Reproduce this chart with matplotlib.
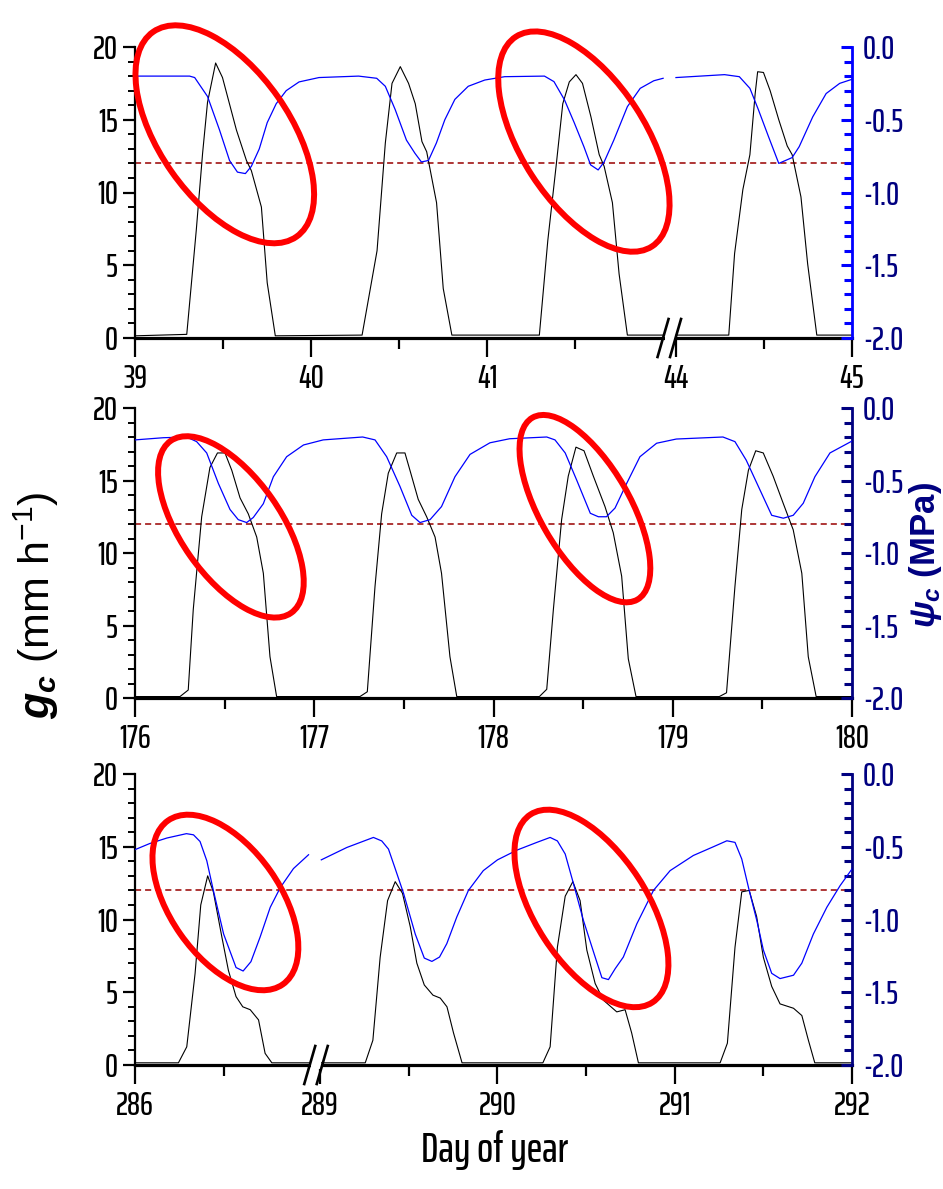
import numpy as np
import matplotlib
matplotlib.use("Agg")
import matplotlib.pyplot as plt
from matplotlib import font_manager as fm
from matplotlib.font_manager import FontProperties
from matplotlib.textpath import TextPath
from matplotlib.patches import Ellipse, Rectangle
from matplotlib.lines import Line2D
from matplotlib.transforms import ScaledTranslation, blended_transform_factory

# ---------------------------------------------------------------- data
# Panel A (days 39-41 and 44)
a_gc_day = [39.0, 39.294, 39.348, 39.384, 39.412, 39.458, 39.497, 39.576, 39.633, 39.661, 39.718, 39.751, 39.797,
            40.29, 40.375, 40.422, 40.46, 40.507, 40.554, 40.592, 40.63, 40.657, 40.713, 40.751, 40.80,
            41.297, 41.345, 41.392, 41.43, 41.467, 41.505, 41.542, 41.59, 41.637, 41.665, 41.712, 41.75, 41.797, 42.0,
            44.0, 44.30, 44.333, 44.38, 44.42, 44.45, 44.464, 44.497, 44.535, 44.584, 44.632, 44.66, 44.71, 44.748, 44.80, 45.0]
a_gc = [0.15, 0.25, 7.4, 12.7, 16.2, 18.9, 17.9, 14.3, 12.2, 11.5, 9.0, 3.8, 0.15,
        0.2, 6.0, 13.4, 17.5, 18.65, 17.5, 16.1, 13.5, 12.8, 9.3, 3.4, 0.2,
        0.2, 6.7, 11.8, 16.1, 17.6, 18.1, 17.5, 15.2, 12.6, 11.8, 9.3, 4.4, 0.2, 0.2,
        0.2, 0.2, 5.8, 10.2, 12.6, 16.8, 18.3, 18.25, 17.0, 15.0, 13.2, 12.6, 9.7, 5.1, 0.2, 0.2]
a_psi_day = [39.0, 39.31, 39.339, 39.412, 39.48, 39.537, 39.582, 39.627, 39.661, 39.706, 39.751, 39.802, 39.859,
             39.932, 40.045, 40.27, 40.373, 40.422, 40.478, 40.542, 40.59, 40.627, 40.667, 40.712, 40.76, 40.817,
             40.893, 40.987, 41.10, 41.326, 41.38, 41.44, 41.495, 41.55, 41.588, 41.631, 41.665, 41.72, 41.797,
             41.87, 41.947, 42.0,
             44.0, 44.276, 44.36, 44.42, 44.468, 44.526, 44.584, 44.66, 44.70, 44.777, 44.853, 44.93, 45.0]
a_psi = [-0.20, -0.20, -0.21, -0.34, -0.57, -0.78, -0.86, -0.87, -0.82, -0.70, -0.52, -0.39, -0.30,
         -0.24, -0.21, -0.20, -0.215, -0.27, -0.43, -0.64, -0.73, -0.79, -0.78, -0.66, -0.50, -0.36,
         -0.27, -0.227, -0.204, -0.20, -0.238, -0.364, -0.52, -0.685, -0.81, -0.845, -0.79, -0.64, -0.41,
         -0.284, -0.232, -0.215,
         -0.21, -0.19, -0.204, -0.284, -0.43, -0.617, -0.80, -0.76, -0.685, -0.48, -0.32, -0.25, -0.222]

# Panel B (days 176-179)
b_gc_day = [176.0, 176.251, 176.297, 176.325, 176.372, 176.418, 176.46, 176.502, 176.54, 176.586, 176.632, 176.679,
            176.716, 176.753, 176.79,
            177.255, 177.296, 177.339, 177.376, 177.413, 177.46, 177.506, 177.534, 177.58, 177.627, 177.674, 177.71,
            177.757, 177.795,
            178.256, 178.297, 178.334, 178.38, 178.417, 178.46, 178.505, 178.557, 178.622, 178.668, 178.715, 178.752,
            178.795,
            179.26, 179.30, 179.347, 179.385, 179.422, 179.463, 179.505, 179.56, 179.617, 179.672, 179.72, 179.756,
            179.80, 180.0]
b_gc = [0.1, 0.1, 0.55, 6.1, 12.5, 15.9, 16.9, 16.9, 15.7, 13.8, 12.7, 11.1, 8.6, 2.85, 0.1,
        0.1, 0.43, 7.7, 12.7, 15.5, 16.9, 16.9, 15.7, 13.7, 12.5, 11.1, 8.6, 2.85, 0.1,
        0.1, 0.6, 6.1, 12.3, 15.3, 17.3, 17.05, 15.3, 13.2, 11.4, 8.4, 2.7, 0.1,
        0.1, 0.36, 7.7, 13.0, 15.7, 17.05, 16.9, 15.3, 13.4, 11.6, 8.6, 2.85, 0.1, 0.1]
b_psi_day = [176.0, 176.158, 176.288, 176.344, 176.40, 176.465, 176.53, 176.576, 176.623, 176.66, 176.716, 176.772,
             176.846, 176.94, 177.05, 177.27, 177.339, 177.404, 177.478, 177.544, 177.59, 177.646, 177.71, 177.785,
             177.869, 177.98, 178.09, 178.297, 178.343, 178.40, 178.464, 178.54, 178.585, 178.63, 178.678, 178.743,
             178.817, 178.91, 179.02, 179.28, 179.347, 179.41, 179.487, 179.552, 179.617, 179.672, 179.728, 179.793,
             179.877, 180.0]
b_psi = [-0.22, -0.205, -0.20, -0.232, -0.31, -0.52, -0.70, -0.77, -0.79, -0.755, -0.66, -0.474,
         -0.336, -0.255, -0.22, -0.20, -0.22, -0.336, -0.54, -0.74, -0.79, -0.77, -0.68, -0.474,
         -0.32, -0.24, -0.212, -0.20, -0.22, -0.31, -0.497, -0.726, -0.75, -0.75, -0.69, -0.52,
         -0.336, -0.243, -0.214, -0.20, -0.232, -0.36, -0.566, -0.74, -0.76, -0.74, -0.657, -0.474,
         -0.31, -0.228]

# Panel C (days 286 and 289-291)
c_gc_day = [286.0, 286.245, 286.292, 286.339, 286.371, 286.41, 286.442, 286.49, 286.527, 286.57, 286.608, 286.65,
            286.697, 286.734, 286.772, 287.0,
            289.0, 289.254, 289.297, 289.338, 289.38, 289.423, 289.464, 289.508, 289.545, 289.587, 289.636, 289.677,
            289.715, 289.752, 289.80,
            290.256, 290.297, 290.338, 290.382, 290.425, 290.466, 290.504, 290.551, 290.598, 290.673, 290.72,
            290.757, 290.795,
            291.256, 291.297, 291.34, 291.378, 291.42, 291.462, 291.50, 291.547, 291.594, 291.67, 291.717, 291.754,
            291.79, 292.0]
c_gc = [0.15, 0.15, 1.25, 6.3, 11.0, 13.0, 11.9, 8.8, 6.5, 4.7, 4.0, 3.8, 3.1, 0.8, 0.15, 0.15,
        0.15, 0.15, 1.7, 7.4, 11.3, 12.6, 11.8, 9.5, 7.0, 5.5, 4.8, 4.6, 4.0, 2.2, 0.15,
        0.15, 1.25, 8.1, 11.6, 12.6, 11.3, 7.9, 5.6, 4.45, 3.65, 3.8, 2.2, 0.15,
        0.15, 1.5, 8.1, 11.9, 12.0, 10.2, 7.4, 5.4, 4.2, 3.9, 3.4, 1.7, 0.15, 0.15]
c_psi_day = [286.0, 286.085, 286.18, 286.29, 286.33, 286.367, 286.405, 286.442, 286.5, 286.57, 286.61, 286.654,
             286.706, 286.763, 286.82, 286.894, 286.979,
             289.006, 289.15, 289.30, 289.347, 289.385, 289.42, 289.47, 289.536, 289.587, 289.63, 289.673, 289.714,
             289.77, 289.836, 289.92, 290.0, 290.11, 290.222, 290.297, 290.338, 290.382, 290.429, 290.485, 290.551,
             290.589, 290.626, 290.664, 290.71, 290.786, 290.88, 290.974, 291.105, 291.218, 291.294, 291.34,
             291.378, 291.416, 291.463, 291.50, 291.547, 291.594, 291.67, 291.717, 291.782, 291.858, 291.933, 292.0]
c_psi = [-0.52, -0.477, -0.44, -0.41, -0.418, -0.464, -0.596, -0.80, -1.10, -1.33, -1.354, -1.29,
         -1.12, -0.916, -0.78, -0.65, -0.555,
         -0.59, -0.505, -0.436, -0.46, -0.516, -0.64, -0.82, -1.10, -1.265, -1.288, -1.258, -1.166,
         -0.984, -0.80, -0.664, -0.59, -0.523, -0.47, -0.436, -0.46, -0.55, -0.755, -1.007, -1.258,
         -1.40, -1.413, -1.338, -1.258, -1.03, -0.80, -0.664, -0.56, -0.50, -0.459, -0.47,
         -0.584, -0.78, -1.007, -1.21, -1.37, -1.406, -1.383, -1.30, -1.10, -0.916, -0.767, -0.653]

# day ranges shown on each x axis (broken axes)
a_segments = [(39, 42), (44, 45)]
b_segments = [(176, 180)]
c_segments = [(286, 287), (289, 292)]

a_xticks = [39, 40, 41, 44, 45]
b_xticks = [176, 177, 178, 179, 180]
c_xticks = [286, 289, 290, 291, 292]
a_xminor = [39.5, 40.5, 41.5, 44.5]
b_xminor = [176.5, 177.5, 178.5, 179.5]
c_xminor = [286.5, 289.5, 290.5, 291.5]

gc_ticks = [0, 5, 10, 15, 20]
gc_ticklabels = ["0", "5", "10", "15", "20"]
psi_ticks = [-2.0, -1.5, -1.0, -0.5, 0.0]
psi_ticklabels = ["-2.0", "-1.5", "-1.0", "-0.5", "0.0"]
gc_threshold = 12

# annotation ellipses: (day, gc, semi-major px, semi-minor px, angle)
a_ellipses = [(39.51, 14.0, 125, 65, -55), (41.55, 13.5, 125, 62, -57)]
b_ellipses = [(176.535, 11.8, 105, 50, -55), (178.51, 13.06, 105, 45, -60)]
c_ellipses = [(286.51, 11.17, 100, 55, -55), (290.53, 10.76, 112, 56, -57)]

# ---------------------------------------------------------------- fonts
plt.rcParams["font.family"] = ["Liberation Sans", "DejaVu Sans"]
plt.rcParams["mathtext.fontset"] = "custom"
plt.rcParams["mathtext.rm"] = "Liberation Sans"
plt.rcParams["mathtext.it"] = "Liberation Sans:italic:bold"
plt.rcParams["mathtext.bf"] = "Liberation Sans:bold"

SANS_FAMS = ("DejaVu Sans", "Liberation Sans", "Liberation Sans Narrow", "Noto Sans", "Roboto",
             "Roboto Condensed", "Open Sans", "Open Sans Condensed", "Lato", "Inter", "Arial Narrow")


def _ok_family(name):
    if name in SANS_FAMS:
        return True
    return ("Condensed" in name or "Narrow" in name) and "Mono" not in name and "Serif" not in name


def _ink(text, fname):
    tp = TextPath((0, 0), text, size=1, prop=FontProperties(fname=fname))
    return tp.get_extents()


def _wnum(f):
    w = f.weight
    if isinstance(w, (int, float)):
        return int(w)
    return {"normal": 400, "regular": 400, "book": 400, "medium": 500}.get(str(w).lower(), -1)


TARGET = 36.0 / 23.0  # ink width of "-0.5" over digit height in the reference
cands = []
for f in fm.fontManager.ttflist:
    if f.style != "normal" or not _ok_family(f.name):
        continue
    if _wnum(f) not in (400, 500):
        continue
    try:
        h = _ink("0", f.fname).height
        w = _ink("-0.5", f.fname).width
    except Exception:
        continue
    if h <= 0:
        continue
    cands.append((abs(w / h - TARGET), f, h, w))

if cands:
    cands.sort(key=lambda c: c[0])
    err0, f0, h0, w0 = cands[0]
    chosen = (f0.fname, h0, w0)
    # prefer the medium weight of the same family / width if it exists
    for err, f, h, w in cands:
        if f.name == f0.name and str(f.stretch) == str(f0.stretch) and _wnum(f) == 500 and err < err0 + 0.1:
            chosen = (f.fname, h, w)
            break
    NARROW_FILE, h_em, w_em = chosen
else:
    NARROW_FILE = fm.findfont(FontProperties(family="Liberation Sans"))
    h_em, w_em = 0.72, 1.6

em_px = min(23.0 / h_em, 40.0 / w_em)
TICK_SIZE = em_px * 0.72

dy_ext = _ink("Day of year", NARROW_FILE)
xl_em = min(145.0 / dy_ext.width, 36.0 / _ink("D", NARROW_FILE).height)
XLABEL_SIZE = xl_em * 0.72


def tickfont(size=None):
    return FontProperties(fname=NARROW_FILE, size=size or TICK_SIZE)


W, H = 943, 1189
fig = plt.figure(figsize=(W / 100, H / 100), dpi=100)

NAVY = "#000080"


def rect(top, bottom, left=135, right=852):
    return [left / W, 1 - bottom / H, (right - left) / W, (bottom - top) / H]


def make_panel(r, segs, gap, gcd, gcv, psd, psv, xt, xminor, ells, rcol):
    ax = fig.add_axes(r)
    dk = [segs[0][0] - 100.0]
    pk = [-100.0]
    pos = 0.0
    for i, (s, e) in enumerate(segs):
        if i > 0:
            pos += gap
        dk += [s, e]
        pk += [pos, pos + (e - s)]
        pos += e - s
    dk.append(segs[-1][1] + 100.0)
    pk.append(pos + 100.0)
    fwd = lambda x: np.interp(x, dk, pk)
    inv = lambda y: np.interp(y, pk, dk)
    ax.set_xscale("function", functions=(fwd, inv))
    ax2 = ax.twinx()
    ax2.set_xscale("function", functions=(fwd, inv))

    gcd = np.asarray(gcd); gcv = np.asarray(gcv)
    psd = np.asarray(psd); psv = np.asarray(psv)
    for s, e in segs:
        m = (gcd >= s) & (gcd <= e)
        ax.plot(gcd[m], gcv[m], color="black", lw=0.8, zorder=3)
        m2 = (psd >= s) & (psd <= e)
        ax2.plot(psd[m2], psv[m2], color="#0000ff", lw=0.9, zorder=3)
    ax.axhline(gc_threshold, color="#990000", lw=1.1, ls=(0, (4, 2.6)), zorder=2)

    ax.set_xlim(segs[0][0], segs[-1][1])
    ax2.set_xlim(segs[0][0], segs[-1][1])
    ax.set_ylim(0, 20)
    ax2.set_ylim(-2, 0)

    ax.set_xticks(xt)
    ax.set_xticklabels([str(v) for v in xt])
    ax.set_xticks(xminor, minor=True)
    ax.set_yticks(gc_ticks)
    ax.set_yticklabels(gc_ticklabels)
    ax.set_yticks(np.arange(0, 21, 1), minor=True)
    ax2.set_yticks(psi_ticks)
    ax2.set_yticklabels(psi_ticklabels)
    ax2.set_yticks(np.arange(-2.0, 0.01, 0.1), minor=True)
    for lbl in ax.get_xticklabels() + ax.get_yticklabels() + ax2.get_yticklabels():
        lbl.set_fontproperties(tickfont())

    for sp in ["top", "right"]:
        ax.spines[sp].set_visible(False)
    for sp in ["top", "left", "bottom"]:
        ax2.spines[sp].set_visible(False)
    ax.spines["bottom"].set_linewidth(2.3)
    ax.spines["left"].set_linewidth(1.6)
    ax2.spines["right"].set_linewidth(2.0)
    ax2.spines["right"].set_color(rcol)

    ax.tick_params(axis="x", which="major", direction="out", length=13.5, width=1.6, pad=5)
    ax.tick_params(axis="x", which="minor", direction="out", length=8, width=1.6)
    ax.tick_params(axis="y", which="major", direction="out", length=8.5, width=1.6, pad=4)
    ax.tick_params(axis="y", which="minor", direction="out", length=5, width=1.4)
    ax2.tick_params(axis="y", which="major", direction="in", length=8, width=2.2, color=rcol,
                    labelcolor=NAVY, pad=8)
    ax2.tick_params(axis="y", which="minor", direction="in", length=5.5, width=2.2, color=rcol)
    ax2.tick_params(axis="x", which="both", bottom=False, top=False, labelbottom=False)

    # axis break marks
    if len(segs) > 1:
        xb = 0.5 * (segs[0][1] + segs[1][0])
        tr = fig.dpi_scale_trans + ScaledTranslation(
            xb, 0, blended_transform_factory(ax.transData, ax.transAxes))
        ax2.add_patch(Rectangle((-0.05, -0.035), 0.10, 0.07, transform=tr, facecolor="white",
                                edgecolor="none", clip_on=False, zorder=6))
        for dx in (-0.065, 0.06):
            ax2.add_line(Line2D([dx - 0.055, dx + 0.055], [-0.19, 0.19], transform=tr,
                                color="black", lw=1.9, clip_on=False, zorder=7))

    for (d, g, a, b, ang) in ells:
        tr = fig.dpi_scale_trans + ScaledTranslation(d, g, ax.transData)
        ax2.add_patch(Ellipse((0, 0), 2 * a / 100, 2 * b / 100, angle=ang, transform=tr,
                              fill=False, edgecolor="#ff0000", lw=4.3, clip_on=False, zorder=8))
    return ax, ax2


make_panel(rect(47, 338), a_segments, 0.073, a_gc_day, a_gc, a_psi_day, a_psi,
           a_xticks, a_xminor, a_ellipses, "#0000ff")
make_panel(rect(408, 698), b_segments, 0.0, b_gc_day, b_gc, b_psi_day, b_psi,
           b_xticks, b_xminor, b_ellipses, NAVY)
make_panel(rect(774, 1065), c_segments, 0.045, c_gc_day, c_gc, c_psi_day, c_psi,
           c_xticks, c_xminor, c_ellipses, NAVY)

fig.text(36 / W, 1 - 605 / H, r"$g_c$ (mm h$^{-1}$)", rotation=90, ha="center", va="center",
         fontsize=31, color="black")
fig.text(925 / W, 1 - 555 / H, r"$\psi_c$ $\mathbf{(MPa)}$", rotation=90, ha="center", va="center",
         fontsize=25, color=NAVY)
fig.text(495 / W, 1 - 1150 / H, "Day of year", ha="center", va="center",
         fontproperties=tickfont(XLABEL_SIZE), color="black")

fig.savefig("out.png", dpi=100)
